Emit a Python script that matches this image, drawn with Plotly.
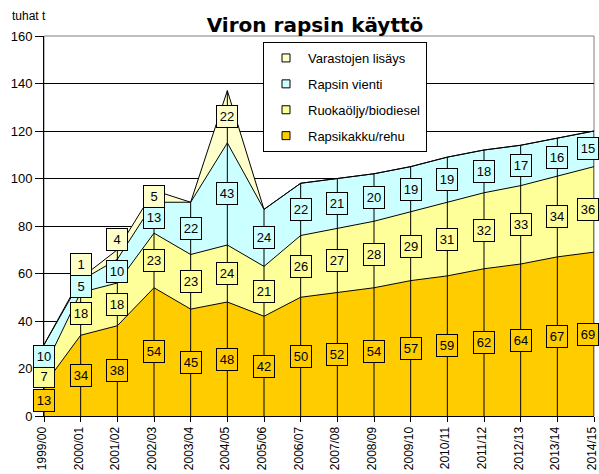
import plotly.graph_objects as go

categories = ["1999/00", "2000/01", "2001/02", "2002/03", "2003/04", "2004/05",
              "2005/06", "2006/07", "2007/08", "2008/09", "2009/10", "2010/11",
              "2011/12", "2012/13", "2013/14", "2014/15"]
rapsikakku = [13, 34, 38, 54, 45, 48, 42, 50, 52, 54, 57, 59, 62, 64, 67, 69]
ruokaoljy = [7, 18, 18, 23, 23, 24, 21, 26, 27, 28, 29, 31, 32, 33, 34, 36]
vienti = [10, 5, 10, 13, 22, 43, 24, 22, 21, 20, 19, 19, 18, 17, 16, 15]
varastot = [0, 1, 4, 5, 0, 22, 0, 0, 0, 0, 0, 0, 0, 0, 0, 0]

series = [
    ("Rapsikakku/rehu", rapsikakku, "#FFCC00"),
    ("Ruokaöljy/biodiesel", ruokaoljy, "#FFFF99"),
    ("Rapsin vienti", vienti, "#CCFFFF"),
    ("Varastojen lisäys", varastot, "#FFFFCC"),
]

FONT = "Liberation Sans, Arial, sans-serif"
fig = go.Figure()

# stacked areas
for name, vals, col in series:
    fig.add_trace(go.Scatter(
        x=categories, y=vals, stackgroup="s", mode="lines",
        line=dict(color="black", width=1), fillcolor=col,
        name=name, showlegend=False, hoverinfo="skip"))

# drop lines from axis to top of stack
totals = [a + b + c + d for a, b, c, d in zip(rapsikakku, ruokaoljy, vienti, varastot)]
dx, dy = [], []
for c, t in zip(categories, totals):
    dx += [c, c, None]
    dy += [0, t, None]
fig.add_trace(go.Scatter(x=dx, y=dy, mode="lines", line=dict(color="black", width=1),
                         showlegend=False, hoverinfo="skip"))

# legend entries (top series first)
for name, vals, col in reversed(series):
    fig.add_trace(go.Scatter(
        x=[None], y=[None], mode="markers", name=name, legendgroup=name,
        marker=dict(symbol="square", size=8, color=col, line=dict(color="black", width=1))))

# data labels
annotations = []
base = [0] * len(categories)
last = len(categories) - 1
for name, vals, col in series:
    for i, (c, v) in enumerate(zip(categories, vals)):
        if v > 0:
            annotations.append(dict(
                x=c, y=base[i] + v / 2, xref="x", yref="y", text=str(v),
                showarrow=False, font=dict(family=FONT, size=13, color="black"),
                bgcolor=col, bordercolor="black", borderwidth=1, borderpad=1,
                width=18, height=19,
                xshift=-6 if i == last else 0,
                yshift=15 if (name == "Varastojen lisäys" and v < 5) else 0))
        base[i] += v

annotations.append(dict(x=(10 - 44) / 550, y=(416 - 16) / 380, xref="paper", yref="paper",
                        xanchor="left", yanchor="middle", text="tuhat t", showarrow=False,
                        font=dict(family=FONT, size=12, color="black")))

fig.update_layout(
    width=599, height=474,
    margin=dict(l=44, r=5, t=36, b=58, autoexpand=False),
    paper_bgcolor="white", plot_bgcolor="white",
    title=dict(text="<b>Viron rapsin käyttö</b>", x=(315 - 44) / 550, xref="paper",
               xanchor="center", y=1 - 25 / 474, yanchor="middle",
               font=dict(family="DejaVu Sans, sans-serif", size=20, color="black")),
    font=dict(family=FONT, size=13, color="black"),
    showlegend=True,
    legend=dict(x=(263 - 44) / 550, y=(416 - 42) / 380, xanchor="left", yanchor="top",
                bgcolor="white", bordercolor="black", borderwidth=1,
                traceorder="grouped", tracegroupgap=6, itemwidth=34,
                font=dict(family=FONT, size=13, color="black")),
    annotations=annotations,
    shapes=[dict(type="rect", xref="paper", yref="paper", x0=0, x1=1, y0=0, y1=1,
                 line=dict(color="#808080", width=1), layer="below")],
)

fig.update_xaxes(type="category", range=[0, len(categories) - 1], automargin=False,
                 showgrid=False, showline=True, linecolor="black", linewidth=1,
                 ticks="outside", ticklen=5, tickcolor="black", tickangle=-90,
                 ticklabelshift=-2,
                 tickfont=dict(family=FONT, size=12, color="black"))
fig.update_yaxes(range=[0, 160], dtick=20, showgrid=True, gridcolor="black", gridwidth=1,
                 showline=True, linecolor="black", linewidth=1, zeroline=False,
                 automargin=False,
                 ticks="outside", ticklen=8, tickcolor="black",
                 tickfont=dict(family=FONT, size=13, color="black"))

fig.write_html("out.html", config={"displayModeBar": False},
               post_script="document.body.style.margin='0';")
